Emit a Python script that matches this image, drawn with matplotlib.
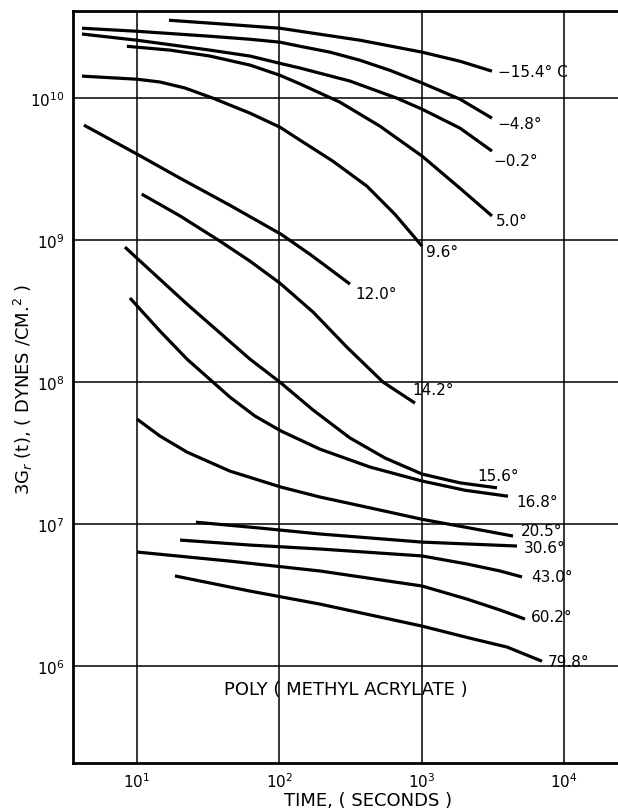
import matplotlib
matplotlib.use("Agg")
import matplotlib.pyplot as plt
from matplotlib.ticker import NullLocator

# relaxation modulus curves, time in seconds, modulus in dynes/cm^2
t_m154 = [16.8, 41.5, 101, 140, 369, 1007, 1862, 3124]
g_m154 = [3.54e10, 3.32e10, 3.11e10, 2.96e10, 2.56e10, 2.11e10, 1.82e10, 1.55e10]

t_m48 = [4.11, 10, 32.6, 62.3, 101, 140, 227, 369, 600, 1007, 1862, 3124]
g_m48 = [3.11e10, 2.96e10, 2.73e10, 2.60e10, 2.48e10, 2.32e10, 2.11e10, 1.85e10,
         1.57e10, 1.28e10, 9.84e9, 7.23e9]

t_m02 = [4.11, 10, 32.6, 62.3, 101, 140, 314, 671, 1007, 1862, 3124]
g_m02 = [2.83e10, 2.56e10, 2.18e10, 1.98e10, 1.76e10, 1.63e10, 1.32e10, 1.0e10,
         8.37e9, 6.15e9, 4.24e9]

t_50 = [8.5, 17.1, 32.6, 62.3, 101, 140, 267, 510, 1007, 1862, 3124]
g_50 = [2.32e10, 2.18e10, 1.98e10, 1.71e10, 1.45e10, 1.26e10, 9.37e9, 6.35e9,
        3.91e9, 2.32e9, 1.48e9]

t_96 = [4.11, 10, 14.5, 21.7, 34.2, 62.3, 101, 140, 238, 413, 650, 1007]
g_96 = [1.43e10, 1.36e10, 1.30e10, 1.18e10, 1.0e10, 7.84e9, 6.25e9, 5.06e9,
        3.60e9, 2.40e9, 1.52e9, 9.08e8]

t_120 = [4.24, 10, 20.1, 45.0, 103, 164, 227, 314]
g_120 = [6.46e9, 4.04e9, 2.73e9, 1.76e9, 1.10e9, 7.96e8, 6.25e8, 4.90e8]

t_142 = [10.8, 20.1, 38.3, 62.3, 101, 173, 299, 536, 899]
g_142 = [2.11e9, 1.48e9, 9.84e8, 7.11e8, 4.98e8, 3.11e8, 1.76e8, 1.0e8, 7.11e7]

t_156 = [8.24, 10, 22.5, 62.3, 101, 173, 314, 553, 1007, 1862, 3388]
g_156 = [8.93e8, 7.46e8, 3.54e8, 1.45e8, 1.0e8, 6.35e7, 4.04e7, 2.92e7,
         2.25e7, 1.95e7, 1.80e7]

t_168 = [8.93, 14.5, 22.5, 45.0, 67.4, 103, 193, 434, 1007, 2018, 4048]
g_168 = [3.91e8, 2.29e8, 1.45e8, 7.84e7, 5.77e7, 4.52e7, 3.37e7, 2.52e7,
         2.01e7, 1.73e7, 1.57e7]

t_205 = [10, 14.5, 22.5, 45.0, 103, 193, 434, 1007, 2188, 4389]
g_205 = [5.49e7, 4.17e7, 3.21e7, 2.36e7, 1.82e7, 1.55e7, 1.30e7, 1.08e7,
         9.37e6, 8.23e6]

t_306 = [26.0, 73.1, 193, 1007, 4682]
g_306 = [1.03e7, 9.37e6, 8.51e6, 7.46e6, 7.00e6]

t_430 = [20.1, 62.3, 193, 1007, 2085, 3556, 5077]
g_430 = [7.71e6, 7.11e6, 6.67e6, 5.96e6, 5.23e6, 4.67e6, 4.24e6]

t_602 = [10, 45.0, 193, 1007, 2085, 3556, 5330]
g_602 = [6.35e6, 5.48e6, 4.67e6, 3.66e6, 2.96e6, 2.48e6, 2.14e6]

t_798 = [18.5, 62.3, 193, 1007, 2188, 3983, 7017]
g_798 = [4.31e6, 3.37e6, 2.73e6, 1.91e6, 1.57e6, 1.36e6, 1.08e6]

curves = [
    (t_m154, g_m154, "\u221215.4\u00b0 C"),
    (t_m48, g_m48, "\u22124.8\u00b0"),
    (t_m02, g_m02, "\u22120.2\u00b0"),
    (t_50, g_50, "5.0\u00b0"),
    (t_96, g_96, "9.6\u00b0"),
    (t_120, g_120, "12.0\u00b0"),
    (t_142, g_142, "14.2\u00b0"),
    (t_156, g_156, "15.6\u00b0"),
    (t_168, g_168, "16.8\u00b0"),
    (t_205, g_205, "20.5\u00b0"),
    (t_306, g_306, "30.6\u00b0"),
    (t_430, g_430, "43.0\u00b0"),
    (t_602, g_602, "60.2\u00b0"),
    (t_798, g_798, "79.8\u00b0"),
]

# label anchor offsets (points) from the last point of each curve
label_offsets = {
    "\u221215.4\u00b0 C": (4, 0),
    "\u22124.8\u00b0": (4, -4),
    "\u22120.2\u00b0": (1, -7),
    "5.0\u00b0": (3, -3),
    "9.6\u00b0": (3, -4),
    "12.0\u00b0": (4, -7),
    "14.2\u00b0": (-2, 10),
    "15.6\u00b0": (-14, 9),
    "16.8\u00b0": (6, -4),
    "20.5\u00b0": (6, 4),
    "30.6\u00b0": (5, -1),
    "43.0\u00b0": (7, 0),
    "60.2\u00b0": (4, 2),
    "79.8\u00b0": (4, 0),
}

fig = plt.figure(figsize=(6.18, 8.12), dpi=100)
ax = fig.add_axes([0.118, 0.059, 0.882, 0.926])

for t, g, name in curves:
    ax.plot(t, g, color="black", linewidth=2.3, solid_capstyle="butt",
            solid_joinstyle="round")
    dx, dy = label_offsets[name]
    ax.annotate(name, xy=(t[-1], g[-1]), xytext=(dx, dy), textcoords="offset points",
                ha="left", va="center", fontsize=11)

ax.set_xscale("log")
ax.set_yscale("log")
ax.set_xlim(3.55, 24000)
ax.set_ylim(2.07e5, 4.1e10)

ax.set_xticks([1e1, 1e2, 1e3, 1e4])
ax.set_yticks([1e6, 1e7, 1e8, 1e9, 1e10])
ax.xaxis.set_minor_locator(NullLocator())
ax.yaxis.set_minor_locator(NullLocator())
ax.tick_params(length=0, labelsize=11, pad=6)
ax.grid(True, which="major", color="black", linewidth=1.1)

for side in ["left", "bottom", "top"]:
    ax.spines[side].set_linewidth(2)
ax.spines["right"].set_visible(False)

ax.text(0.5, 0.098, "POLY ( METHYL ACRYLATE )", transform=ax.transAxes,
        ha="center", va="center", fontsize=13)

fig.text(0.595, 0.014, "TIME, ( SECONDS )", ha="center", va="center", fontsize=13)
fig.text(0.038, 0.52, "3G$_r$ (t), ( DYNES /CM.$^2$ )", ha="center", va="center",
         rotation=90, fontsize=13)

fig.savefig("out.png", dpi=100)
